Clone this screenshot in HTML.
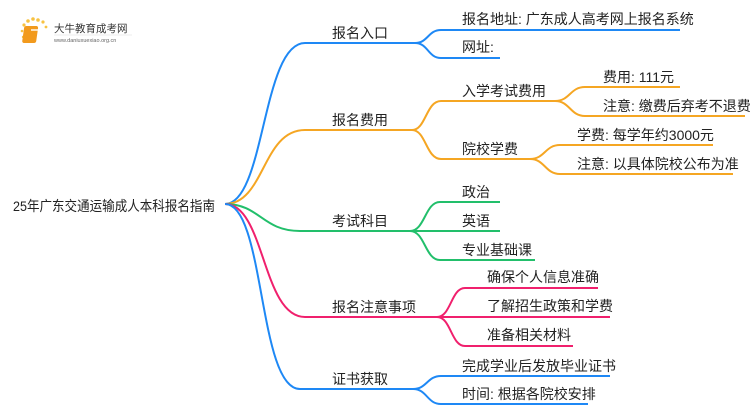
<!DOCTYPE html>
<html><head><meta charset="utf-8"><style>
html,body{margin:0;padding:0;background:#fff;}
svg text{font-family:"Liberation Sans","Noto Sans CJK SC",sans-serif;fill:#222;}
</style></head><body>
<svg width="750" height="410" viewBox="0 0 750 410" xmlns="http://www.w3.org/2000/svg">
<g>
<circle cx="24" cy="25" r="1.6" fill="#f7c242"/><circle cx="28" cy="21" r="1.8" fill="#f7c242"/><circle cx="33" cy="19" r="1.8" fill="#f7c242"/><circle cx="38" cy="20" r="1.8" fill="#f7c242"/><circle cx="43" cy="22" r="1.6" fill="#f7c242"/><circle cx="46" cy="27" r="1.4" fill="#f7c242"/><circle cx="22" cy="31" r="1.3" fill="#f7c242"/><circle cx="23" cy="37" r="1.2" fill="#f7c242"/>
<rect x="28" y="26" width="14" height="17" rx="2" fill="#f29a1d" transform="skewX(-8)"/>
<rect x="31" y="29" width="9" height="2" fill="#fff" opacity="0.7"/>
<text x="54" y="32" font-size="10.5" style="fill:#333">大牛教育成考网</text>
<text x="54" y="42" font-size="5.5" style="fill:#666">www.daniuxuexiao.org.cn</text>
<line x1="54" y1="35" x2="132" y2="35" stroke="#ddd" stroke-width="0.5"/>
</g>
<g fill="none" stroke-width="2">
<path d="M225,204 C265,204 262,43 305,43 L415,43" stroke="#1e88f5"/>
<path d="M225,204 C265,204 262,130 305,130 L412,130" stroke="#f5a623"/>
<path d="M225,204 C260,204 262,231 300,231 L410,231" stroke="#22bf6b"/>
<path d="M225,204 C265,204 262,317 305,317 L437,317" stroke="#f0206d"/>
<path d="M225,204 C265,204 258,389 300,389 L413,389" stroke="#1e88f5"/>
<path d="M415,43 C428,43 428,30 441,30 L680,30" stroke="#1e88f5"/>
<path d="M415,43 C428,43 428,58 441,58 L500,58" stroke="#1e88f5"/>
<path d="M412,130 C426,130 426,101 441,101 L555,101" stroke="#f5a623"/>
<path d="M412,130 C426,130 426,159 441,159 L530,159" stroke="#f5a623"/>
<path d="M555,101 C570,101 570,87 585,87 L680,87" stroke="#f5a623"/>
<path d="M555,101 C570,101 570,116 585,116 L745,116" stroke="#f5a623"/>
<path d="M530,159 C545,159 545,145 560,145 L713,145" stroke="#f5a623"/>
<path d="M530,159 C545,159 545,174 560,174 L733,174" stroke="#f5a623"/>
<path d="M410,231 C425,231 425,202 440,202 L500,202" stroke="#22bf6b"/>
<path d="M410,231 L500,231" stroke="#22bf6b"/>
<path d="M410,231 C425,231 425,260 440,260 L535,260" stroke="#22bf6b"/>
<path d="M437,317 C451,317 451,288 465,288 L598,288" stroke="#f0206d"/>
<path d="M437,317 L610,317" stroke="#f0206d"/>
<path d="M437,317 C451,317 451,346 465,346 L573,346" stroke="#f0206d"/>
<path d="M413,389 C427,389 427,376 441,376 L610,376" stroke="#1e88f5"/>
<path d="M413,389 C427,389 427,404 441,404 L588,404" stroke="#1e88f5"/>
</g>
<g font-size="14">
<text x="13" y="211" textLength="202" lengthAdjust="spacingAndGlyphs">25年广东交通运输成人本科报名指南</text>
<text x="332" y="38">报名入口</text>
<text x="332" y="125">报名费用</text>
<text x="332" y="226">考试科目</text>
<text x="332" y="312">报名注意事项</text>
<text x="332" y="384">证书获取</text>
<text x="462" y="24">报名地址: 广东成人高考网上报名系统</text>
<text x="462" y="52">网址:</text>
<text x="462" y="96">入学考试费用</text>
<text x="462" y="154">院校学费</text>
<text x="603" y="82">费用: 111元</text>
<text x="603" y="111">注意: 缴费后弃考不退费</text>
<text x="577" y="140">学费: 每学年约3000元</text>
<text x="577" y="169">注意: 以具体院校公布为准</text>
<text x="462" y="197">政治</text>
<text x="462" y="226">英语</text>
<text x="462" y="255">专业基础课</text>
<text x="487" y="282">确保个人信息准确</text>
<text x="487" y="311">了解招生政策和学费</text>
<text x="487" y="340">准备相关材料</text>
<text x="462" y="371">完成学业后发放毕业证书</text>
<text x="462" y="399">时间: 根据各院校安排</text>
</g>
</svg>
</body></html>
